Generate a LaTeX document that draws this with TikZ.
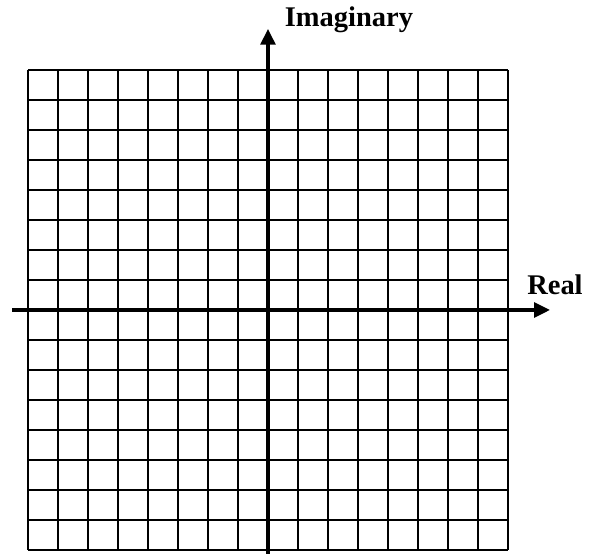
\documentclass[tikz,border=0pt]{standalone}
\usepackage{fontspec}
\setmainfont{Liberation Serif}
\usetikzlibrary{arrows.meta,positioning}

\begin{document}
\begin{tikzpicture}[
  x=0.5cm,y=0.5cm,
  gridline/.style={draw=black,line width=0.55pt},
  axis/.style={-{Triangle[length=7.5pt,width=7pt]},line width=1.6pt},
  lab/.style={font=\fontsize{13.5}{15}\selectfont\bfseries,inner sep=0pt,anchor=west}
]
  \useasboundingbox (-8.933,-8.133) rectangle (11.167,10.333);
  \draw[gridline] (-8,-8) grid[step=1] (8,8);

  \coordinate (xl) at (-8.53,0);
  \coordinate (xr) at (9.4,0);
  \coordinate (yb) at (0,-8.2);
  \coordinate (yt) at (0,9.37);
  \draw[axis] (xl) -- (xr);
  \draw[axis] (yb) -- (yt);

  \node[lab] (im) at (0.55,9.67) {Imaginary};
  \node[lab] (re) at (8.63,0.83) {Real};
\end{tikzpicture}
\end{document}
